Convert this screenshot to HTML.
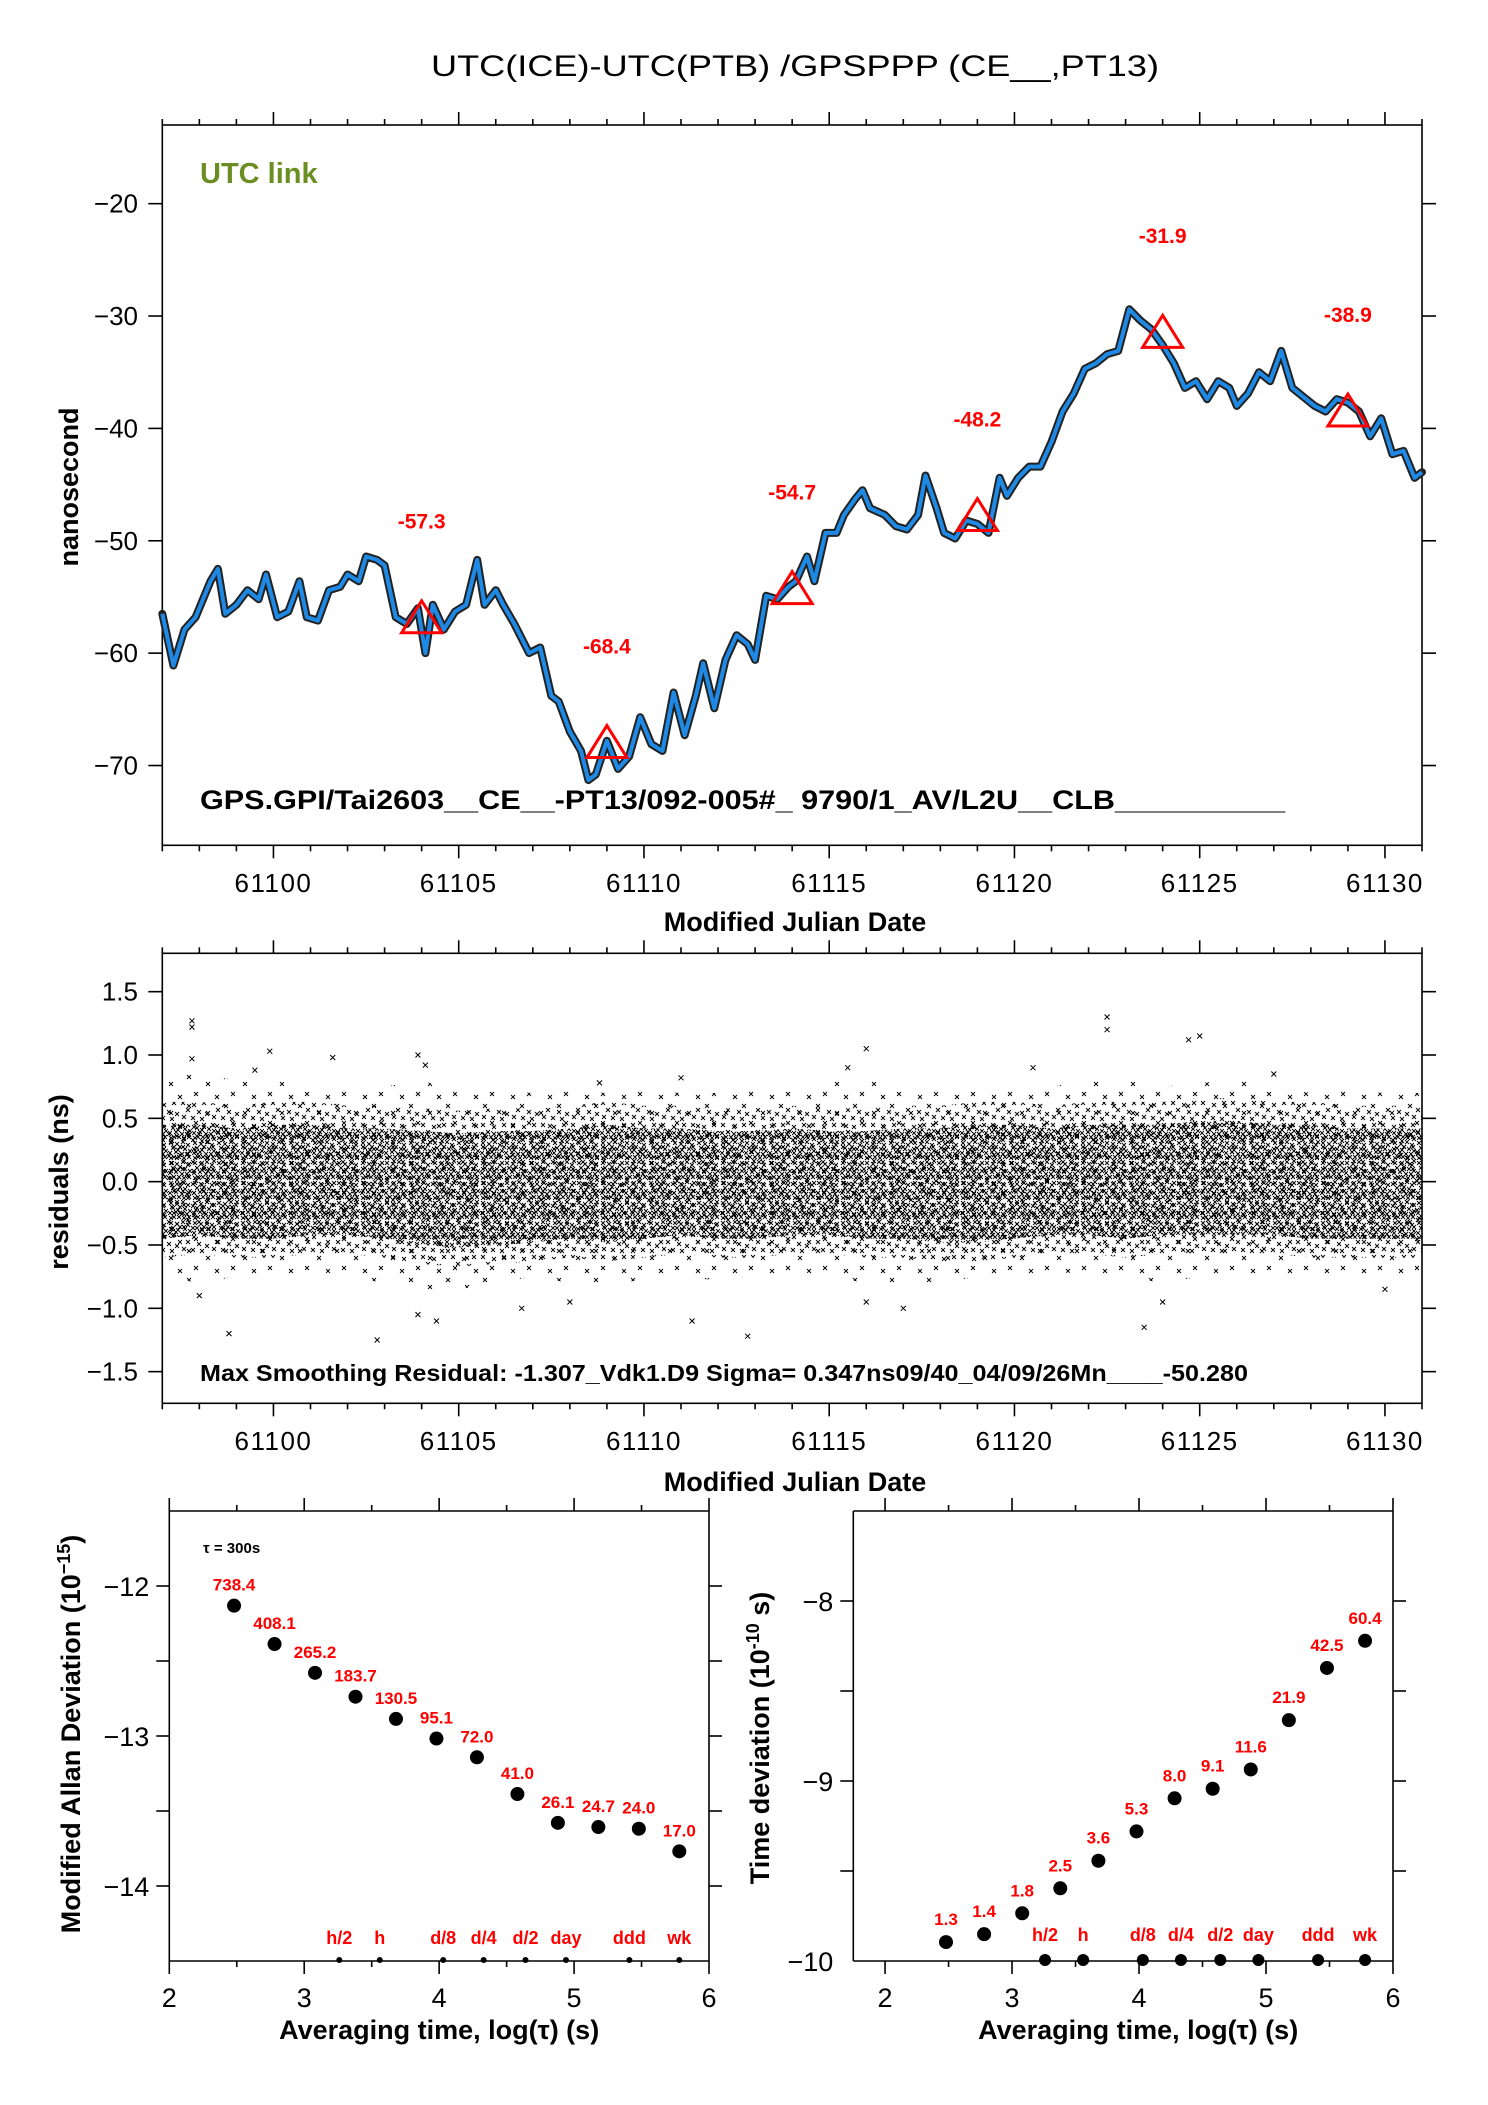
<!DOCTYPE html>
<html><head><meta charset="utf-8"><style>
html,body{margin:0;padding:0;background:#fff;}
svg{display:block;}
text{font-family:"Liberation Sans",sans-serif;}
</style></head><body>
<svg id="root" width="1488" height="2105" viewBox="0 0 1488 2105" xmlns="http://www.w3.org/2000/svg">
<defs>
<pattern id="xdense" width="24" height="20" patternUnits="userSpaceOnUse"><g stroke="#000" stroke-width="0.9" fill="none">
<path d="M1,1l4,4m0,-4l-4,4"/><path d="M7,2l4,4m0,-4l-4,4"/><path d="M13,0l4,4m0,-4l-4,4"/><path d="M18,3l4,4m0,-4l-4,4"/>
<path d="M3,6l4,4m0,-4l-4,4"/><path d="M10,5l4,4m0,-4l-4,4"/><path d="M15,7l4,4m0,-4l-4,4"/><path d="M20,9l4,4m0,-4l-4,4"/>
<path d="M0,11l4,4m0,-4l-4,4"/><path d="M6,10l4,4m0,-4l-4,4"/><path d="M12,12l4,4m0,-4l-4,4"/><path d="M17,12l4,4m0,-4l-4,4"/>
<path d="M4,15l4,4m0,-4l-4,4"/><path d="M9,15l4,4m0,-4l-4,4"/><path d="M14,16l4,4m0,-4l-4,4"/><path d="M19,15l4,4m0,-4l-4,4"/>
<path d="M8,8l4,4m0,-4l-4,4"/><path d="M1,16l4,4m0,-4l-4,4"/></g></pattern>
<pattern id="xmid" width="30" height="22" patternUnits="userSpaceOnUse"><g stroke="#000" stroke-width="0.9" fill="none">
<path d="M1,1l4,4m0,-4l-4,4"/><path d="M12,3l4,4m0,-4l-4,4"/><path d="M22,1l4,4m0,-4l-4,4"/><path d="M6,8l4,4m0,-4l-4,4"/>
<path d="M17,10l4,4m0,-4l-4,4"/><path d="M25,12l4,4m0,-4l-4,4"/><path d="M2,15l4,4m0,-4l-4,4"/><path d="M11,16l4,4m0,-4l-4,4"/><path d="M20,17l4,4m0,-4l-4,4"/></g></pattern>
<pattern id="xsparse" width="37" height="29" patternUnits="userSpaceOnUse"><g stroke="#000" stroke-width="0.9" fill="none">
<path d="M2,2l4,4m0,-4l-4,4"/><path d="M21,9l4,4m0,-4l-4,4"/><path d="M9,19l4,4m0,-4l-4,4"/><path d="M30,22l4,4m0,-4l-4,4"/></g></pattern>
</defs>
<text x="795" y="76" font-size="30" text-anchor="middle" textLength="728" lengthAdjust="spacingAndGlyphs">UTC(ICE)-UTC(PTB)  /GPSPPP  (CE__,PT13)</text>
<g id="topPanel"></g>
<g id="midPanel"></g>
<g id="blPanel"></g>
<g id="brPanel"></g>
</svg>
<script>
// ---- top series data ----
const mjd = [61097.0,61097.3,61097.6,61097.9,61098.3,61098.5,61098.7,61099.0,61099.3,61099.6,61099.8,61100.1,61100.4,61100.7,61100.9,61101.2,61101.5,61101.8,61102.0,61102.3,61102.5,61102.8,61103.0,61103.3,61103.6,61103.9,61104.1,61104.3,61104.6,61104.9,61105.2,61105.5,61105.7,61106.0,61106.2,61106.5,61106.9,61107.2,61107.5,61107.7,61108.0,61108.3,61108.5,61108.7,61109.0,61109.3,61109.6,61109.9,61110.2,61110.5,61110.8,61111.1,61111.4,61111.6,61111.9,61112.2,61112.5,61112.8,61113.0,61113.3,61113.6,61113.9,61114.1,61114.4,61114.6,61114.9,61115.2,61115.4,61115.7,61115.9,61116.1,61116.5,61116.8,61117.1,61117.4,61117.6,61117.9,61118.1,61118.4,61118.7,61119.0,61119.3,61119.6,61119.8,61120.1,61120.4,61120.7,61121.0,61121.3,61121.6,61121.9,61122.2,61122.5,61122.8,61123.1,61123.4,61123.7,61124.0,61124.3,61124.6,61124.9,61125.2,61125.5,61125.8,61126.0,61126.3,61126.6,61126.9,61127.2,61127.5,61127.8,61128.1,61128.4,61128.7,61129.0,61129.3,61129.6,61129.9,61130.2,61130.5,61130.8,61131.0];
const ns = [-56.5,-61.1,-57.9,-56.8,-53.6,-52.5,-56.5,-55.7,-54.4,-55.2,-53.0,-56.8,-56.3,-53.6,-56.8,-57.1,-54.4,-54.1,-53.0,-53.6,-51.4,-51.7,-52.2,-56.8,-57.4,-56.0,-60.0,-55.7,-57.9,-56.3,-55.7,-51.7,-55.7,-54.4,-55.7,-57.4,-60.0,-59.5,-63.8,-64.3,-67.0,-68.7,-71.3,-70.8,-67.8,-70.3,-69.2,-65.7,-68.1,-68.7,-63.5,-67.3,-63.8,-60.9,-64.9,-60.6,-58.4,-59.2,-60.6,-54.9,-55.2,-54.1,-53.6,-51.4,-53.6,-49.3,-49.3,-47.7,-46.3,-45.5,-47.1,-47.7,-48.7,-49.0,-47.7,-44.2,-47.1,-49.3,-49.8,-48.2,-48.5,-49.3,-44.4,-46.0,-44.4,-43.4,-43.4,-41.2,-38.5,-36.9,-34.7,-34.2,-33.4,-33.1,-29.4,-30.4,-31.2,-32.6,-34.2,-36.4,-35.8,-37.4,-35.8,-36.4,-38.0,-36.9,-35.0,-35.8,-33.1,-36.4,-37.2,-38.0,-38.5,-37.4,-37.7,-38.5,-40.7,-39.1,-42.3,-42.0,-44.4,-43.9];
const triMjd = [61104,61109,61114,61119,61124,61129];
const triVal = [-57.3,-68.4,-54.7,-48.2,-31.9,-38.9];
const xTicksMjd = [61100,61105,61110,61115,61120,61125,61130];
const yTicksTop = [-20,-30,-40,-50,-60,-70];
// ---- residual data ----
const resDay = [61097,61098,61099,61100,61101,61102,61103,61104,61105,61106,61107,61108,61109,61110,61111,61112,61113,61114,61115,61116,61117,61118,61119,61120,61121,61122,61123,61124,61125,61126,61127,61128,61129,61130,61131];
const resUpper = [0.45,0.45,0.42,0.45,0.45,0.42,0.42,0.40,0.38,0.40,0.40,0.42,0.45,0.42,0.42,0.40,0.40,0.42,0.40,0.40,0.42,0.42,0.45,0.45,0.42,0.45,0.45,0.45,0.48,0.48,0.45,0.45,0.42,0.42,0.42];
const resLower = [-0.45,-0.42,-0.45,-0.45,-0.42,-0.42,-0.45,-0.5,-0.52,-0.5,-0.48,-0.45,-0.48,-0.45,-0.42,-0.45,-0.45,-0.42,-0.42,-0.45,-0.45,-0.48,-0.48,-0.45,-0.42,-0.42,-0.45,-0.42,-0.42,-0.42,-0.42,-0.45,-0.45,-0.45,-0.45];
const resOutUp = [0.85,0.85,0.8,0.8,0.75,0.75,0.75,0.8,0.7,0.72,0.7,0.72,0.7,0.72,0.7,0.7,0.72,0.72,0.8,0.8,0.75,0.72,0.72,0.72,0.75,0.8,0.8,0.75,0.78,0.8,0.75,0.7,0.72,0.7,0.7];
const resOutLo = [-0.75,-0.8,-0.75,-0.75,-0.7,-0.75,-0.8,-0.85,-0.85,-0.8,-0.75,-0.8,-0.8,-0.78,-0.75,-0.78,-0.75,-0.7,-0.75,-0.8,-0.8,-0.8,-0.75,-0.75,-0.72,-0.72,-0.75,-0.8,-0.75,-0.75,-0.75,-0.72,-0.75,-0.75,-0.7];
const outMjd = [61097.8,61097.8,61097.8,61099.9,61101.6,61103.9,61104.1,61099.5,61108.8,61111.0,61116.0,61120.5,61122.5,61122.5,61124.7,61125.0,61127.0,61115.5,61098.8,61102.8,61104.4,61106.7,61111.3,61112.8,61123.5,61098.0,61117.0,61124.0,61130.0,61108.0,61116.0,61103.9];
const outVal = [1.27,1.22,0.97,1.03,0.98,1.0,0.92,0.88,0.78,0.82,1.05,0.9,1.3,1.2,1.12,1.15,0.85,0.9,-1.2,-1.25,-1.1,-1.0,-1.1,-1.22,-1.15,-0.9,-1.0,-0.95,-0.85,-0.95,-0.95,-1.05];
const yTicksMid = [1.5,1.0,0.5,0.0,-0.5,-1.0,-1.5];
const yTickMidLabels = ["1.5","1.0","0.5","0.0","\u22120.5","\u22121.0","\u22121.5"];
// ---- stability data ----
const logTau = [2.48,2.78,3.08,3.38,3.68,3.98,4.28,4.58,4.88,5.18,5.48,5.78];
const madev = [-12.131,-12.387,-12.579,-12.738,-12.886,-13.017,-13.142,-13.387,-13.579,-13.607,-13.618,-13.769];
const madevLabels = ["738.4","408.1","265.2","183.7","130.5","95.1","72.0","41.0","26.1","24.7","24.0","17.0"];
const tdev = [-9.895,-9.851,-9.735,-9.596,-9.443,-9.280,-9.096,-9.043,-8.936,-8.662,-8.372,-8.221];
const tdevLabels = ["1.3","1.4","1.8","2.5","3.6","5.3","8.0","9.1","11.6","21.9","42.5","60.4"];
const markNames = ["h/2","h","d/8","d/4","d/2","day","ddd","wk"];
const markLog = [3.26,3.56,4.03,4.33,4.64,4.94,5.41,5.78];

const SVGNS="http://www.w3.org/2000/svg";
function mk(parent, tag, attrs, txt){const e=document.createElementNS(SVGNS,tag);for(const k in attrs)e.setAttribute(k,attrs[k]);if(txt!==undefined)e.textContent=txt;parent.appendChild(e);return e;}

// ===== TOP PANEL =====
const topG=document.getElementById('topPanel');
const tX0=162.3,tX1=1422,tY0=125,tY1=845.3, xMin=61097,xMax=61131, tyMin=-77.1, tyMax=-13;
const tx=v=>tX0+(v-xMin)/(xMax-xMin)*(tX1-tX0);
const ty=v=>tY0+(tyMax-v)/(tyMax-tyMin)*(tY1-tY0);
function frame(g,x0,y0,x1,y1){const r=mk(g,'rect',{x:x0,y:y0,width:x1-x0,height:y1-y0,fill:'none',stroke:'#000','stroke-width':1.6});}
frame(topG,tX0,tY0,tX1,tY1);
function mjdTicks(g,yTop,yBot,labY){
 for(let d=xMin;d<=xMax;d++){const x=tx(d);const maj=(d%5===0);const L=maj?13:6;
  mk(g,'line',{x1:x,x2:x,y1:yTop,y2:yTop-L,stroke:'#000','stroke-width':1.6});
  mk(g,'line',{x1:x,x2:x,y1:yBot,y2:yBot+L,stroke:'#000','stroke-width':1.6});}
 for(const d of xTicksMjd){const t=mk(g,'text',{x:tx(d),y:labY,'font-size':26,'text-anchor':'middle','letter-spacing':'1.5'},String(d));
  }
}
mjdTicks(topG,tY0,tY1,892);
for(const v of yTicksTop){const y=ty(v);
 mk(topG,'line',{x1:tX0,x2:tX0-14,y1:y,y2:y,stroke:'#000','stroke-width':1.6});
 mk(topG,'line',{x1:tX1,x2:tX1+14,y1:y,y2:y,stroke:'#000','stroke-width':1.6});
 const t=mk(topG,'text',{x:138,y:y+9,'font-size':26,'text-anchor':'end'},'\u2212'+String(-v));
 }
const pts=mjd.map((m,i)=>tx(m).toFixed(1)+','+ty(ns[i]).toFixed(1)).join(' ');
const band=mk(topG,'polyline',{points:pts,fill:'none',stroke:'#222','stroke-width':8,'stroke-linejoin':'round','stroke-linecap':'round'});

const sm=mk(topG,'polyline',{points:pts,fill:'none',stroke:'#1e8ae6','stroke-width':4,'stroke-linejoin':'round'});

triMjd.forEach((m,i)=>{const x=tx(m),y=ty(triVal[i]);
 const p=mk(topG,'polygon',{points:`${x},${y-22} ${x-20},${y+10} ${x+20},${y+10}`,fill:'none',stroke:'#f00','stroke-width':3});
 
 const t=mk(topG,'text',{x:x,y:ty(triVal[i]+9.1)+8,'font-size':21,'font-weight':'bold',fill:'#f00','text-anchor':'middle'},String(triVal[i]));
 });
let t1=mk(topG,'text',{x:200,y:183,'font-size':29,'font-weight':'bold',fill:'#6b8e23'},'UTC link');

t1=mk(topG,'text',{x:200,y:809,'font-size':27,'font-weight':'bold',textLength:1085,lengthAdjust:'spacingAndGlyphs'},'GPS.GPI/Tai2603__CE__-PT13/092-005#_  9790/1_AV/L2U__CLB__________');

t1=mk(topG,'text',{x:795,y:931,'font-size':27,'font-weight':'bold','text-anchor':'middle'},'Modified Julian Date');

t1=mk(topG,'text',{x:0,y:0,'font-size':27,'font-weight':'bold','text-anchor':'middle',transform:'translate(78,487) rotate(-90)'},'nanosecond');


// ===== MIDDLE PANEL =====
const midG=document.getElementById('midPanel');
const mY0=953.3,mY1=1403.3,myMin=-1.75,myMax=1.803;
const my=v=>mY0+(myMax-v)/(myMax-myMin)*(mY1-mY0);
function envPath(up,lo){const a=resDay.map((d,i)=>tx(d).toFixed(1)+','+my(up[i]).toFixed(1));const b=resDay.map((d,i)=>tx(d).toFixed(1)+','+my(lo[i]).toFixed(1)).reverse();return 'M'+a.join('L')+'L'+b.join('L')+'Z';}
const clipEl=mk(midG,'clipPath',{id:'mclip'});mk(clipEl,'rect',{x:tX0,y:mY0,width:tX1-tX0,height:mY1-mY0});
const mg=mk(midG,'g',{'clip-path':'url(#mclip)'});
let e=mk(mg,'path',{d:envPath(resOutUp,resOutLo),fill:'url(#xsparse)'});
e=mk(mg,'path',{d:envPath(resUpper.map(v=>v+0.18),resLower.map(v=>v-0.15)),fill:'url(#xmid)'});
e=mk(mg,'path',{d:envPath(resUpper,resLower),fill:'url(#xdense)'});
outMjd.forEach((m,i)=>{const x=tx(m),y=my(outVal[i]);
 const p=mk(mg,'path',{d:`M${x-2.5},${y-2.5}L${x+2.5},${y+2.5}M${x+2.5},${y-2.5}L${x-2.5},${y+2.5}`,stroke:'#000','stroke-width':1});
 });
frame(midG,tX0,mY0,tX1,mY1);
mjdTicks(midG,mY0,mY1,1450);
yTicksMid.forEach((v,i)=>{const y=my(v);
 mk(midG,'line',{x1:tX0,x2:tX0-14,y1:y,y2:y,stroke:'#000','stroke-width':1.6});
 mk(midG,'line',{x1:tX1,x2:tX1+14,y1:y,y2:y,stroke:'#000','stroke-width':1.6});
 const t=mk(midG,'text',{x:138,y:y+9,'font-size':26,'text-anchor':'end'},yTickMidLabels[i]);
 });
t1=mk(midG,'text',{x:200,y:1381,'font-size':23,'font-weight':'bold',textLength:1048,lengthAdjust:'spacingAndGlyphs'},'Max Smoothing Residual: -1.307_Vdk1.D9  Sigma= 0.347ns09/40_04/09/26Mn____-50.280');

t1=mk(midG,'text',{x:795,y:1491,'font-size':27,'font-weight':'bold','text-anchor':'middle'},'Modified Julian Date');

t1=mk(midG,'text',{x:0,y:0,'font-size':27,'font-weight':'bold','text-anchor':'middle',transform:'translate(68,1182) rotate(-90)'},'residuals (ns)');


// ===== BOTTOM PANELS =====
function stabPanel(g,x0,x1,y0,y1,xlo,xhi,ylo,yhi,yTicks,yMinor,vals,labels,labOff,dotR,markR,labelYMark,tau){
 const sx=v=>x0+(v-xlo)/(xhi-xlo)*(x1-x0);
 const sy=v=>y0+(yhi-v)/(yhi-ylo)*(y1-y0);
 mk(g,'line',{x1:x0,x2:x1,y1:y0,y2:y0,stroke:'#000','stroke-width':1.6});
 mk(g,'line',{x1:x0,x2:x1,y1:y1,y2:y1,stroke:'#000','stroke-width':1.6});
 mk(g,'line',{x1:x0,x2:x0,y1:y0,y2:y1,stroke:'#000','stroke-width':1.6});
 mk(g,'line',{x1:x1,x2:x1,y1:y0,y2:y1,stroke:'#000','stroke-width':1.6});
 for(let v=2;v<=6;v+=0.5){if(v<xlo)continue;const x=sx(v);const maj=Number.isInteger(v);const L=maj?13:6;
  mk(g,'line',{x1:x,x2:x,y1:y0,y2:y0-L,stroke:'#000','stroke-width':1.6});
  mk(g,'line',{x1:x,x2:x,y1:y1,y2:y1+L,stroke:'#000','stroke-width':1.6});
  if(maj){const t=mk(g,'text',{x:x,y:2007,'font-size':27,'text-anchor':'middle'},String(v));}}
 for(const v of yMinor){const y=sy(v);
  mk(g,'line',{x1:x0,x2:x0-13,y1:y,y2:y,stroke:'#000','stroke-width':1.6});
  mk(g,'line',{x1:x1,x2:x1+13,y1:y,y2:y,stroke:'#000','stroke-width':1.6});}
 for(const v of yTicks){const t=mk(g,'text',{x:x0-20,y:sy(v)+10,'font-size':27,'text-anchor':'end'},'\u2212'+String(-v));}
 logTau.forEach((lt,i)=>{const x=sx(lt),y=sy(vals[i]);
  const c=mk(g,'circle',{cx:x,cy:y,r:dotR,fill:'#000'});
  const t=mk(g,'text',{x:x,y:y-labOff,'font-size':17,'font-weight':'bold',fill:'#f00','text-anchor':'middle'},labels[i]);});
 markLog.forEach((lt,i)=>{const x=sx(lt);
  const c=mk(g,'circle',{cx:x,cy:y1-1,r:markR,fill:'#000'});
  const t=mk(g,'text',{x:x,y:labelYMark,'font-size':18,'font-weight':'bold',fill:'#f00','text-anchor':'middle'},markNames[i]);});
 const xt=mk(g,'text',{x:(x0+x1)/2+(tau?0:15),y:2039,'font-size':27,'font-weight':'bold','text-anchor':'middle'},'Averaging time, log(\u03c4) (s)');
 
 if(tau){const t=mk(g,'text',{x:203,y:1553,'font-size':15,'font-weight':'bold'},'\u03c4 = 300s');}
}
const blG=document.getElementById('blPanel');
stabPanel(blG,169.3,709,1511,1961,2,6,-14.5,-11.5,[-12,-13,-14],[-12,-12.5,-13,-13.5,-14],madev,madevLabels,15,7,3,1944,true);
let yt=mk(blG,'text',{x:0,y:0,'font-size':27,'font-weight':'bold','text-anchor':'middle',transform:'translate(80,1734) rotate(-90)'});

mk(yt,'tspan',{},'Modified Allan Deviation (10');mk(yt,'tspan',{dy:-10,'font-size':18},'\u221215');mk(yt,'tspan',{dy:10},')');
const brG=document.getElementById('brPanel');
stabPanel(brG,853.3,1393,1511,1961,1.75,6,-10,-7.5,[-8,-9,-10],[-8,-8.5,-9,-9.5],tdev,tdevLabels,17,7,6,1941,false);
yt=mk(brG,'text',{x:0,y:0,'font-size':27,'font-weight':'bold','text-anchor':'middle',transform:'translate(769,1738) rotate(-90)'});

mk(yt,'tspan',{},'Time deviation (10');mk(yt,'tspan',{dy:-10,'font-size':18},'-10');mk(yt,'tspan',{dy:10},' s)');
</script>
</body></html>
